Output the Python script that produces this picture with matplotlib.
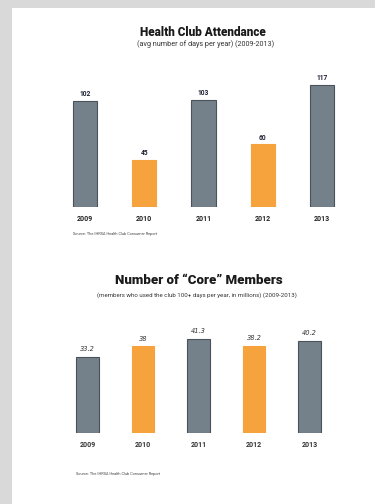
import matplotlib
matplotlib.use("Agg")
import matplotlib.pyplot as plt
from matplotlib.patches import Rectangle

# Data
years1 = ["2009", "2010", "2011", "2012", "2013"]
attendance = [102, 45, 103, 60, 117]
colors1 = ["gray", "orange", "gray", "orange", "gray"]

years2 = ["2009", "2010", "2011", "2012", "2013"]
core_members = [33.2, 38.0, 41.3, 38.2, 40.2]
colors2 = ["gray", "orange", "gray", "orange", "gray"]

title1 = "Health Club Attendance"
subtitle1 = "(avg number of days per year) (2009-2013)"
source1 = "Source: The IHRSA Health Club Consumer Report"
title2 = "Number of \u201cCore\u201d Members"
subtitle2 = "(members who used the club 100+ days per year, in millions) (2009-2013)"
source2 = "Source: The IHRSA Health Club Consumer Report"

GRAY = "#74808a"
GRAY_EDGE = "#4a535a"
ORANGE = "#f6a23d"
cmap = {"gray": (GRAY, GRAY_EDGE), "orange": (ORANGE, ORANGE)}

FONT = ["Roboto", "DejaVu Sans"]
plt.rcParams["font.family"] = FONT

W, H = 375, 504
fig = plt.figure(figsize=(W / 100, H / 100), dpi=100)
fig.patch.set_facecolor("#d9d9d9")
fig.add_artist(Rectangle((12 / W, 0), 1 - 12 / W, 1 - 8 / H,
                         transform=fig.transFigure, facecolor="white",
                         edgecolor="none", zorder=0))

def fx(px):
    return px / W

def fy(py):
    return 1 - py / H

# Chart 1
left1, right1 = 55.35, 351.65
bot1, top1 = 207, 75
ax1 = fig.add_axes([fx(left1), fy(bot1), fx(right1 - left1), (bot1 - top1) / H])
x1 = range(len(years1))
ax1.bar(x1, attendance, width=0.405,
        color=[cmap[c][0] for c in colors1],
        edgecolor=[cmap[c][1] for c in colors1], linewidth=0.8)
ax1.set_xlim(-0.5, len(years1) - 0.5)
ax1.set_ylim(0, 126.5)
for xi, v in zip(x1, attendance):
    ax1.text(xi, v + 2.5, f"{v:g}", ha="center", va="bottom", fontsize=4.8,
             fontweight="bold", color="#1c1f33")
ax1.set_xticks(list(x1))
ax1.set_xticklabels(years1, fontsize=5, fontweight="bold", color="#222222")
ax1.tick_params(axis="x", length=0, pad=6)
ax1.set_yticks([])
for s in ax1.spines.values():
    s.set_visible(False)
ax1.patch.set_alpha(0)

fig.text(fx(203), fy(33), title1, ha="center", va="center", fontsize=8.5,
         fontweight="black", color="#1a1a1a")
fig.text(fx(206), fy(44), subtitle1, ha="center", va="center", fontsize=5.2,
         color="#333333")
fig.text(fx(73), fy(234), source1, ha="left", va="center", fontsize=2.8,
         color="#444444")

# Chart 2
left2, right2 = 59.75, 337.25
bot2, top2 = 433, 320
ax2 = fig.add_axes([fx(left2), fy(bot2), fx(right2 - left2), (bot2 - top2) / H])
x2 = range(len(years2))
ax2.bar(x2, core_members, width=0.414,
        color=[cmap[c][0] for c in colors2],
        edgecolor=[cmap[c][1] for c in colors2], linewidth=0.8)
ax2.set_xlim(-0.5, len(years2) - 0.5)
ax2.set_ylim(0, 49.4)
for xi, v in zip(x2, core_members):
    ax2.text(xi, v + 2.0, f"{v:g}", ha="center", va="bottom", fontsize=4.8,
             style="italic", color="#333333", family=["DejaVu Sans"])
ax2.set_xticks(list(x2))
ax2.set_xticklabels(years2, fontsize=5, fontweight="bold", color="#333333")
ax2.tick_params(axis="x", length=0, pad=6)
ax2.set_yticks([])
for s in ax2.spines.values():
    s.set_visible(False)
ax2.patch.set_alpha(0)

fig.text(fx(199), fy(280), title2, ha="center", va="center", fontsize=9.5,
         fontweight="black", color="#1a1a1a")
fig.text(fx(197), fy(295), subtitle2, ha="center", va="center", fontsize=4.4,
         color="#333333")
fig.text(fx(76), fy(474), source2, ha="left", va="center", fontsize=2.8,
         color="#444444")

fig.savefig("out.png", dpi=100, facecolor=fig.get_facecolor())
